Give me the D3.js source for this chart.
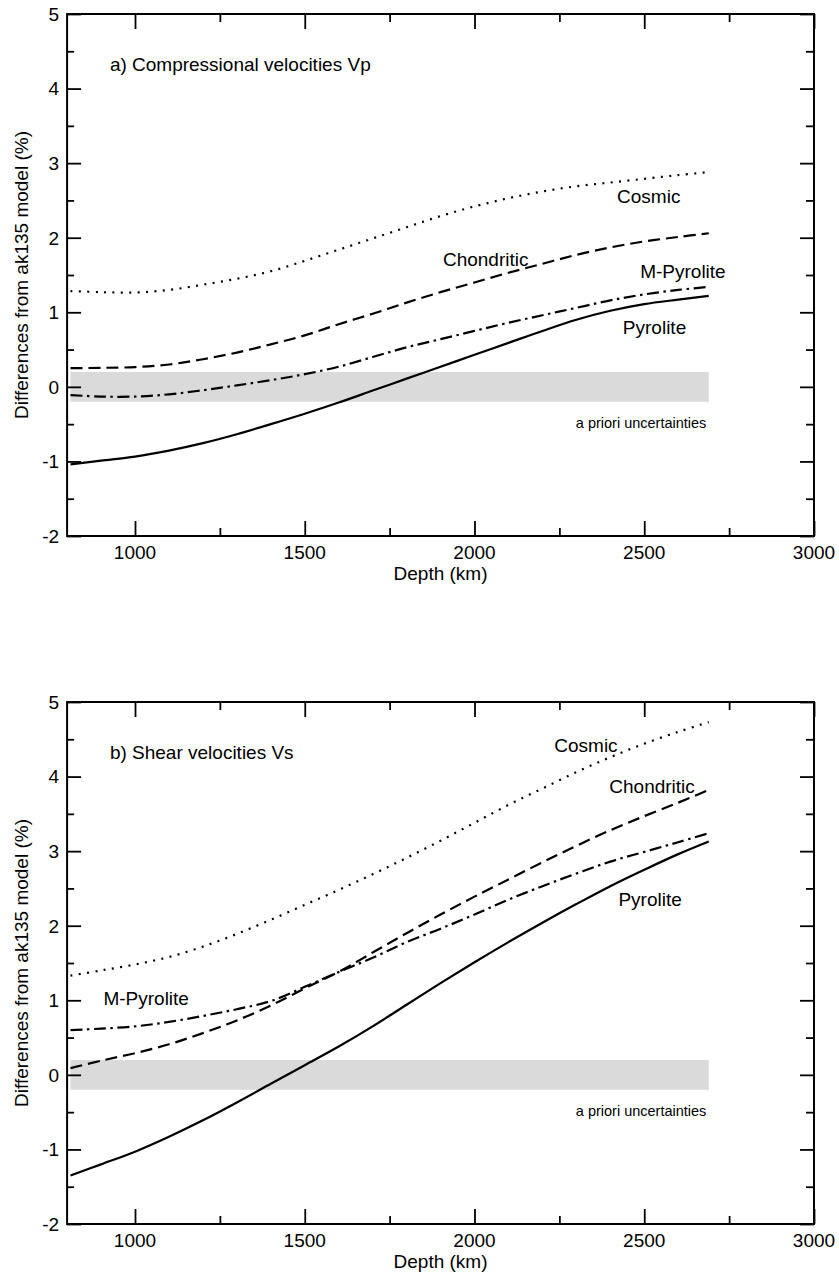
<!DOCTYPE html>
<html>
<head>
<meta charset="utf-8">
<script src="https://cdn.jsdelivr.net/npm/d3@7/dist/d3.min.js"></script>
<style>
  html, body { margin: 0; padding: 0; background: #fff; }
  svg { display: block; }
  text { font-family: "Liberation Sans", Arial, Helvetica, sans-serif; fill: #000; }
</style>
</head>
<body>
<svg id="chart" width="839" height="1277"></svg>
<script>
// ---------------- DATA ----------------
const depths = [810, 900, 1000, 1100, 1200, 1300, 1400, 1500, 1600, 1700, 1800, 1900, 2000, 2100, 2200, 2300, 2400, 2500, 2600, 2690];

// a) Compressional velocities Vp (% difference from ak135)
const vpCosmic     = [1.285, 1.27, 1.265, 1.30, 1.37, 1.45, 1.55, 1.69, 1.84, 1.99, 2.14, 2.29, 2.42, 2.53, 2.62, 2.69, 2.74, 2.79, 2.84, 2.88];
const vpChondritic = [0.25, 0.255, 0.265, 0.30, 0.37, 0.46, 0.57, 0.69, 0.84, 0.98, 1.13, 1.27, 1.40, 1.53, 1.65, 1.77, 1.87, 1.95, 2.01, 2.06];
const vpMPyrolite  = [-0.11, -0.13, -0.13, -0.10, -0.045, 0.02, 0.09, 0.17, 0.27, 0.40, 0.53, 0.64, 0.75, 0.86, 0.96, 1.06, 1.16, 1.24, 1.30, 1.34];
const vpPyrolite   = [-1.04, -0.99, -0.935, -0.855, -0.755, -0.635, -0.50, -0.36, -0.21, -0.05, 0.11, 0.27, 0.43, 0.59, 0.75, 0.90, 1.02, 1.11, 1.17, 1.22];

// b) Shear velocities Vs (% difference from ak135)
const vsCosmic     = [1.33, 1.40, 1.48, 1.58, 1.72, 1.89, 2.08, 2.28, 2.48, 2.69, 2.91, 3.14, 3.38, 3.62, 3.84, 4.06, 4.26, 4.44, 4.60, 4.73];
const vsChondritic = [0.09, 0.19, 0.29, 0.41, 0.56, 0.73, 0.93, 1.16, 1.38, 1.64, 1.90, 2.15, 2.39, 2.62, 2.85, 3.07, 3.28, 3.47, 3.65, 3.82];
const vsMPyrolite  = [0.60, 0.62, 0.65, 0.71, 0.79, 0.88, 0.99, 1.18, 1.38, 1.57, 1.78, 1.96, 2.15, 2.35, 2.53, 2.70, 2.86, 2.99, 3.12, 3.24];
const vsPyrolite   = [-1.35, -1.20, -1.03, -0.83, -0.61, -0.37, -0.12, 0.13, 0.38, 0.65, 0.94, 1.23, 1.51, 1.78, 2.04, 2.29, 2.53, 2.75, 2.96, 3.13];

// a priori uncertainty band
const bandDepths = [810, 2690];
const bandValues = [-0.2, 0.2];

// axes
const xDomain = [800, 3000];
const yDomain = [-2, 5];
const xTickValues = [1000, 1500, 2000, 2500, 3000];
const xMinorTicks = [1250, 1750, 2250, 2750];
const yTickValues = [-2, -1, 0, 1, 2, 3, 4, 5];
const yMinorTicks = [-1.5, -0.5, 0.5, 1.5, 2.5, 3.5, 4.5];

const seriesNames = ["Cosmic", "Chondritic", "M-Pyrolite", "Pyrolite"];
const panelTitles = ["a) Compressional velocities Vp", "b) Shear velocities Vs"];
const xTitle = "Depth (km)";
const yTitle = "Differences from ak135 model (%)";
const bandLabel = "a priori uncertainties";

// label anchors in data units [depth, value]
const labelsA = { "Cosmic": [2420, 2.46], "Chondritic": [1907, 1.625], "M-Pyrolite": [2488, 1.456], "Pyrolite": [2437, 0.705] };
const labelsB = { "Cosmic": [2235, 4.325], "Chondritic": [2397, 3.784], "M-Pyrolite": [907, 0.937], "Pyrolite": [2424, 2.268] };
const titleAnchor = [926, 4.24];
const bandLabelAnchor = [2683, -0.55];

// ---------------- DRAW ----------------
const svg = d3.select("#chart");
const left = 67.1, right = 814;
const panels = [
  { top: 14, bottom: 536, series: [vpCosmic, vpChondritic, vpMPyrolite, vpPyrolite], labels: labelsA, title: panelTitles[0] },
  { top: 702, bottom: 1224, series: [vsCosmic, vsChondritic, vsMPyrolite, vsPyrolite], labels: labelsB, title: panelTitles[1] }
];
const styles = {
  "Cosmic":     { dash: "2,6.4" },
  "Chondritic": { dash: "12,6" },
  "M-Pyrolite": { dash: "12,4.5,2.5,4.5" },
  "Pyrolite":   { dash: null }
};
const FS = 19;

panels.forEach(p => {
  const x = d3.scaleLinear().domain(xDomain).range([left, right]);
  const y = d3.scaleLinear().domain(yDomain).range([p.bottom, p.top]);
  const g = svg.append("g");

  // band
  g.append("rect")
    .attr("x", x(bandDepths[0])).attr("width", x(bandDepths[1]) - x(bandDepths[0]))
    .attr("y", y(bandValues[1])).attr("height", y(bandValues[0]) - y(bandValues[1]))
    .attr("fill", "#dadada");

  // lines
  const line = d3.line().x((d, i) => x(depths[i])).y(d => y(d)).curve(d3.curveCatmullRom.alpha(0.5));
  p.series.forEach((s, k) => {
    const name = seriesNames[k];
    const path = g.append("path").datum(s).attr("d", line)
      .attr("fill", "none").attr("stroke", "#000").attr("stroke-width", 2.2);
    if (styles[name].dash) path.attr("stroke-dasharray", styles[name].dash);
  });

  // axes (ticks inward on all sides)
  const tick = (axisFn, scale, vals, size, tr) => {
    const a = axisFn(scale).tickValues(vals).tickSizeInner(size).tickSizeOuter(0).tickFormat("");
    const ag = g.append("g").attr("transform", tr).call(a);
    ag.select(".domain").remove();
    ag.selectAll(".tick line").attr("stroke", "#000").attr("stroke-width", 1.8);
    return ag;
  };
  // bottom
  tick(d3.axisTop, x, xTickValues, 15, `translate(0,${p.bottom})`);
  tick(d3.axisTop, x, xMinorTicks, 8, `translate(0,${p.bottom})`);
  g.append("g").selectAll("text").data(xTickValues).join("text")
    .attr("x", d => x(d)).attr("y", p.bottom + 23).attr("text-anchor", "middle")
    .attr("font-size", FS).text(d => d);
  // top
  tick(d3.axisBottom, x, xTickValues, 15, `translate(0,${p.top})`);
  tick(d3.axisBottom, x, xMinorTicks, 8, `translate(0,${p.top})`);
  // left
  tick(d3.axisRight, y, yTickValues, 14, `translate(${left},0)`);
  tick(d3.axisRight, y, yMinorTicks, 7, `translate(${left},0)`);
  g.append("g").selectAll("text").data(yTickValues).join("text")
    .attr("x", left - 8).attr("y", d => y(d)).attr("dy", "0.36em").attr("text-anchor", "end")
    .attr("font-size", FS).text(d => d);
  // right
  tick(d3.axisLeft, y, yTickValues, 14, `translate(${right},0)`);
  tick(d3.axisLeft, y, yMinorTicks, 8, `translate(${right},0)`);

  // frame
  g.append("rect").attr("x", left).attr("y", p.top)
    .attr("width", right - left).attr("height", p.bottom - p.top)
    .attr("fill", "none").attr("stroke", "#000").attr("stroke-width", 2);

  // axis titles
  g.append("text").attr("x", (left + right) / 2).attr("y", p.bottom + 44)
    .attr("text-anchor", "middle").attr("font-size", FS).text(xTitle);
  g.append("text").attr("transform", `translate(28,${(p.top + p.bottom) / 2}) rotate(-90)`)
    .attr("text-anchor", "middle").attr("font-size", FS).text(yTitle);

  // panel title
  g.append("text").attr("x", x(titleAnchor[0])).attr("y", y(titleAnchor[1]))
    .attr("font-size", FS).text(p.title);

  // series labels
  seriesNames.forEach(n => {
    const a = p.labels[n];
    g.append("text").attr("x", x(a[0])).attr("y", y(a[1])).attr("font-size", FS).text(n);
  });

  // band label
  g.append("text").attr("x", x(bandLabelAnchor[0])).attr("y", y(bandLabelAnchor[1]))
    .attr("text-anchor", "end").attr("font-size", 14.5).text(bandLabel);
});
</script>
</body>
</html>
